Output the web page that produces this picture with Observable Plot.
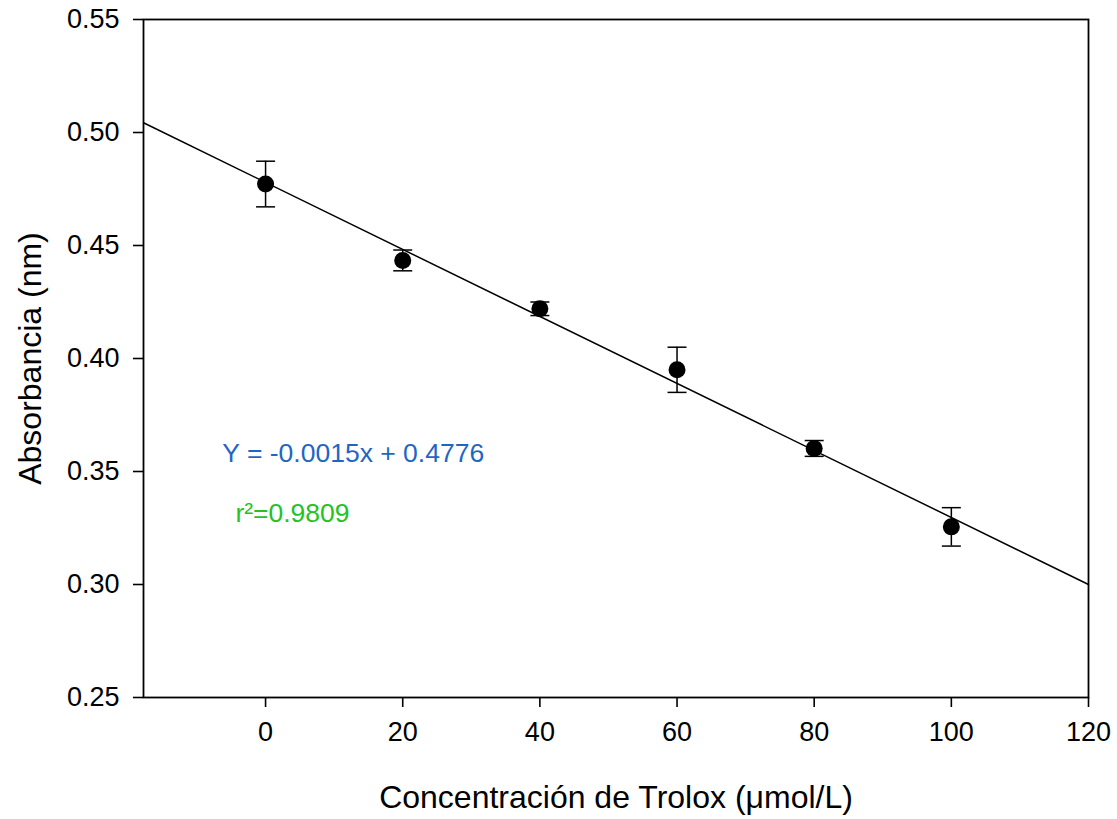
<!DOCTYPE html>
<html>
<head>
<meta charset="utf-8">
<script src="https://cdn.jsdelivr.net/npm/d3@7"></script>
<script src="https://cdn.jsdelivr.net/npm/@observablehq/plot@0.6"></script>
<style>
  html, body { margin: 0; padding: 0; background: #fff; }
  svg { font-family: "Liberation Sans", Arial, sans-serif; }
</style>
</head>
<body>
<div id="chart"></div>
<script>
// Data
const concentration = [0, 20, 40, 60, 80, 100];
const absorbance    = [0.4772, 0.4434, 0.4220, 0.3950, 0.3602, 0.3255];
const errorBar      = [0.0101, 0.0046, 0.0030, 0.0100, 0.0035, 0.0085];

// Fitted regression line (endpoints across the axis range)
const fitX = [-17.8, 120];
const fitY = [0.5043, 0.3000];

const xTicks = [0, 20, 40, 60, 80, 100, 120];
const yTicks = [0.25, 0.30, 0.35, 0.40, 0.45, 0.50, 0.55];

const equationText = "Y = -0.0015x + 0.4776";
const r2Text = "r\u00B2=0.9809";
const xTitle = "Concentración de Trolox (\u03BCmol/L)";
const yTitle = "Absorbancia (nm)";

const points = concentration.map((c, i) => ({x: c, y: absorbance[i], err: errorBar[i]}));
const fit = fitX.map((x, i) => ({x, y: fitY[i]}));

const capSymbol = {
  draw(ctx, size) {
    const w = Math.sqrt(size / Math.PI);
    ctx.moveTo(-w, 0);
    ctx.lineTo(w, 0);
  }
};

const chart = Plot.plot({
  width: 1117,
  height: 819,
  marginLeft: 143,
  marginRight: 29,
  marginTop: 19,
  marginBottom: 122,
  style: {fontFamily: "'Liberation Sans', Arial, sans-serif", background: "#fff", color: "#000"},
  x: {domain: [-17.8, 120]},
  y: {domain: [0.25, 0.55]},
  marks: [
    Plot.axisX({ticks: xTicks, tickSize: 10, tickPadding: 14, fontSize: 27, label: null, strokeWidth: 1.6}),
    Plot.axisY({ticks: yTicks, tickSize: 10, tickPadding: 14, fontSize: 27, label: null, strokeWidth: 1.6, tickFormat: d3.format(".2f")}),
    Plot.frame({stroke: "#000", strokeWidth: 1.8}),
    Plot.line(fit, {x: "x", y: "y", stroke: "#000", strokeWidth: 1.5}),
    Plot.ruleX(points, {x: "x", y1: d => d.y - d.err, y2: d => d.y + d.err, stroke: "#000", strokeWidth: 1.5}),
    Plot.dot(points, {x: "x", y: d => d.y - d.err, symbol: capSymbol, r: 9.5, stroke: "#000", strokeWidth: 1.5, fill: "none"}),
    Plot.dot(points, {x: "x", y: d => d.y + d.err, symbol: capSymbol, r: 9.5, stroke: "#000", strokeWidth: 1.5, fill: "none"}),
    Plot.dot(points, {x: "x", y: "y", r: 8.5, fill: "#000", stroke: "none"}),
    Plot.text([equationText], {x: -6.3, y: 0.358, text: d => d, textAnchor: "start", fontSize: 26.5, fill: "#1f66c4"}),
    Plot.text([r2Text], {x: -4.4, y: 0.3315, text: d => d, textAnchor: "start", fontSize: 26.5, fill: "#22c322"}),
    Plot.text([xTitle], {frameAnchor: "bottom", dy: 100, textAnchor: "middle", lineAnchor: "middle", text: d => d, fontSize: 32, fill: "#000"}),
    Plot.text([yTitle], {frameAnchor: "left", dx: -113, rotate: -90, textAnchor: "middle", lineAnchor: "middle", text: d => d, fontSize: 32, fill: "#000"})
  ]
});
document.getElementById("chart").appendChild(chart);
</script>
</body>
</html>
